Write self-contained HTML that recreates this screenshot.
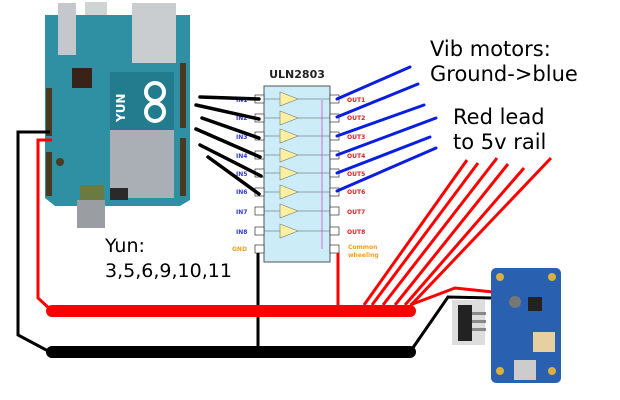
<!DOCTYPE html><html><head><style>body{margin:0;background:#fff}svg{display:block}</style></head><body>
<svg width="620" height="400" viewBox="0 0 620 400" xmlns="http://www.w3.org/2000/svg" font-family="DejaVu Sans, Liberation Sans, sans-serif">
<!-- Arduino -->
<rect x="58" y="3" width="18" height="52" fill="#c4c8cc"/>
<rect x="132" y="3" width="44" height="60" fill="#c9cdd0"/>
<rect x="85" y="2" width="22" height="22" fill="#d0d3d6"/>
<path d="M45 15 H190 V200 L180 206 H55 L45 198 Z" fill="#2f8fa3"/>
<rect x="132" y="3" width="44" height="60" fill="#c9cdd0"/>
<rect x="58" y="3" width="18" height="52" fill="#c4c8cc"/>
<rect x="110" y="72" width="64" height="58" fill="#237b8e"/>
<rect x="110" y="130" width="64" height="68" fill="#a9afb4"/>
<text x="125" y="122" transform="rotate(-90 125 122)" font-size="12" font-weight="bold" fill="#fff">YUN</text>
<circle cx="155" cy="92" r="9" fill="none" stroke="#fff" stroke-width="4"/>
<circle cx="155" cy="112" r="9" fill="none" stroke="#fff" stroke-width="4"/>
<rect x="72" y="68" width="20" height="20" fill="#3a2218"/>
<rect x="180" y="63" width="6" height="65" fill="#4a3a22"/>
<rect x="180" y="138" width="6" height="58" fill="#4a3a22"/>
<rect x="46" y="88" width="6" height="48" fill="#4a3a22"/>
<rect x="46" y="152" width="6" height="44" fill="#4a3a22"/>
<rect x="80" y="185" width="24" height="16" fill="#6b7a40"/>
<rect x="110" y="188" width="18" height="12" fill="#2a2a2a"/>
<rect x="77" y="200" width="28" height="28" fill="#9a9ea2"/>
<circle cx="60" cy="162" r="4" fill="#4a3a22"/>
<!-- arduino wires -->
<polyline points="50,132 18,132 18,335 50,352" fill="none" stroke="#000" stroke-width="3"/>
<polyline points="52,140 38,140 38,298 52,311" fill="none" stroke="#f00" stroke-width="3"/>
<!-- chip -->
<rect x="264" y="86" width="66" height="176" fill="#ccecf8" stroke="#555" stroke-width="1"/>
<text x="297" y="78" text-anchor="middle" font-size="11" font-weight="bold" fill="#222">ULN2803</text>
<g font-size="6" font-weight="bold">
<g fill="#fff" stroke="#333" stroke-width="0.7">
<rect x="255" y="95" width="9" height="8"/><rect x="255" y="114" width="9" height="8"/><rect x="255" y="132" width="9" height="8"/><rect x="255" y="151" width="9" height="8"/><rect x="255" y="169" width="9" height="8"/><rect x="255" y="188" width="9" height="8"/><rect x="255" y="207" width="9" height="8"/><rect x="255" y="227" width="9" height="8"/><rect x="255" y="245" width="9" height="8"/>
<rect x="330" y="95" width="9" height="8"/><rect x="330" y="114" width="9" height="8"/><rect x="330" y="132" width="9" height="8"/><rect x="330" y="151" width="9" height="8"/><rect x="330" y="169" width="9" height="8"/><rect x="330" y="188" width="9" height="8"/><rect x="330" y="207" width="9" height="8"/><rect x="330" y="227" width="9" height="8"/><rect x="330" y="245" width="9" height="8"/>
</g>
<g fill="#2a3ad0"><text x="236" y="102">IN1</text><text x="236" y="120">IN2</text><text x="236" y="139">IN3</text><text x="236" y="158">IN4</text><text x="236" y="176">IN5</text><text x="236" y="194">IN6</text><text x="236" y="214">IN7</text><text x="236" y="234">IN8</text></g>
<text x="232" y="251" fill="#f0a020">GND</text>
<g fill="#e02020"><text x="347" y="102">OUT1</text><text x="347" y="120">OUT2</text><text x="347" y="139">OUT3</text><text x="347" y="158">OUT4</text><text x="347" y="176">OUT5</text><text x="347" y="194">OUT6</text><text x="347" y="214">OUT7</text><text x="347" y="234">OUT8</text></g>
<text x="348" y="249" fill="#f0a020">Common</text><text x="348" y="257" fill="#f0a020">wheeling</text>
</g>
<g stroke="#555" stroke-width="0.6">
<line x1="264" y1="99" x2="330" y2="99"/><line x1="264" y1="118" x2="330" y2="118"/><line x1="264" y1="136" x2="330" y2="136"/><line x1="264" y1="155" x2="330" y2="155"/><line x1="264" y1="173" x2="330" y2="173"/><line x1="264" y1="192" x2="330" y2="192"/><line x1="264" y1="211" x2="330" y2="211"/><line x1="264" y1="231" x2="330" y2="231"/>
</g>
<g fill="#faf0a0" stroke="#777" stroke-width="0.6">
<path d="M280 92 L298 99 L280 106Z"/><path d="M280 111 L298 118 L280 125Z"/><path d="M280 129 L298 136 L280 143Z"/><path d="M280 148 L298 155 L280 162Z"/><path d="M280 166 L298 173 L280 180Z"/><path d="M280 185 L298 192 L280 199Z"/><path d="M280 204 L298 211 L280 218Z"/><path d="M280 224 L298 231 L280 238Z"/>
</g>
<polyline points="322,249 322,100" fill="none" stroke="#d050d0" stroke-width="0.8"/>
<!-- black input wires -->
<g stroke="#000" stroke-width="3.5" stroke-linecap="round">
<line x1="200" y1="97" x2="259" y2="99"/><line x1="196" y1="105" x2="259" y2="119"/><line x1="202" y1="118" x2="259" y2="138"/><line x1="196" y1="129" x2="260" y2="157"/><line x1="200" y1="145" x2="261" y2="176"/><line x1="208" y1="157" x2="259" y2="194"/>
</g>
<!-- blue -->
<g stroke="#0a1ee0" stroke-width="3" stroke-linecap="round">
<line x1="337" y1="99" x2="410" y2="67"/><line x1="337" y1="117" x2="418" y2="84"/><line x1="337" y1="136" x2="424" y2="105"/><line x1="337" y1="155" x2="436" y2="118"/><line x1="337" y1="173" x2="430" y2="137"/><line x1="337" y1="191" x2="436" y2="148"/>
</g>
<!-- red lines -->
<g stroke="#f00" stroke-width="3" fill="none">
<line x1="364" y1="305" x2="467" y2="160"/><line x1="372" y1="305" x2="478" y2="163"/><line x1="383" y1="305" x2="497" y2="158"/><line x1="395" y1="305" x2="508" y2="164"/><line x1="405" y1="305" x2="524" y2="168"/><line x1="412" y1="304" x2="551" y2="158"/>
<polyline points="410,305 455,288 493,292"/>
<line x1="338" y1="253" x2="338" y2="310"/>
</g>
<line x1="258" y1="253" x2="258" y2="352" stroke="#000" stroke-width="3"/>
<polyline points="410,352 448,297 493,298" fill="none" stroke="#000" stroke-width="3"/>
<line x1="52" y1="311" x2="410" y2="311" stroke="#f00" stroke-width="12" stroke-linecap="round"/>
<line x1="52" y1="352" x2="410" y2="352" stroke="#000" stroke-width="12" stroke-linecap="round"/>
<!-- switch -->
<rect x="452" y="300" width="33" height="45" fill="#ddd"/>
<rect x="458" y="305" width="14" height="36" fill="#222"/>
<rect x="472" y="312" width="14" height="3" fill="#888"/><rect x="472" y="320" width="14" height="3" fill="#888"/><rect x="472" y="328" width="14" height="3" fill="#888"/>
<!-- board -->
<rect x="491" y="268" width="70" height="115" rx="5" fill="#2a60b0"/>
<circle cx="500" cy="277" r="4" fill="#d8b040"/><circle cx="552" cy="277" r="4" fill="#d8b040"/><circle cx="500" cy="371" r="4" fill="#d8b040"/><circle cx="552" cy="371" r="4" fill="#d8b040"/>
<circle cx="515" cy="302" r="6" fill="#777"/><rect x="528" y="297" width="14" height="14" fill="#222"/>
<rect x="533" y="332" width="22" height="20" fill="#e6d0a0"/>
<rect x="514" y="360" width="22" height="20" fill="#ccc"/>
<!-- texts -->
<g font-size="21" fill="#000">
<text x="430" y="56">Vib motors:</text><text x="430" y="81">Ground-&gt;blue</text>
<text x="453" y="124">Red lead</text><text x="453" y="149">to 5v rail</text>
<text x="105" y="252" font-size="19">Yun:</text><text x="105" y="277" font-size="19">3,5,6,9,10,11</text>
</g>
</svg>
</body></html>
